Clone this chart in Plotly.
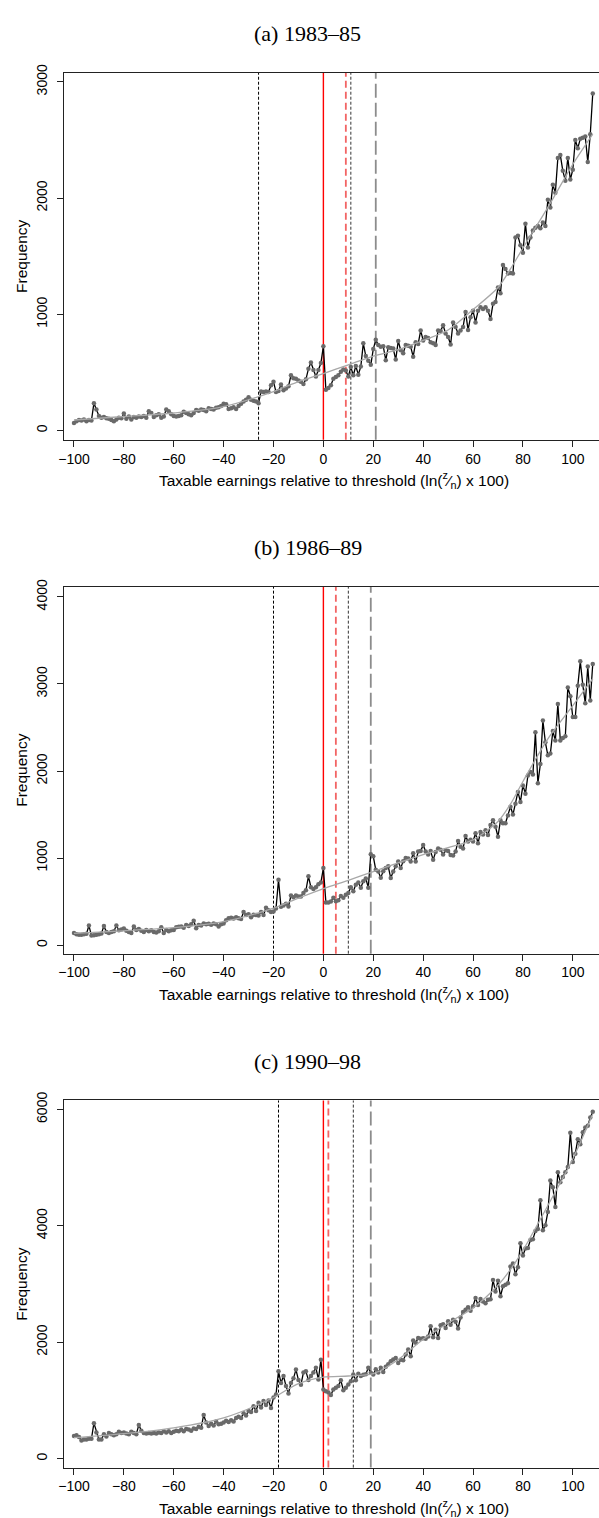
import plotly.graph_objects as go

# earnings bins, ln(z/n) x 100
bins = list(range(-100, 109))

# observed frequencies, one value per bin (-100 .. 108)
freq_a = [65, 80, 90, 85, 95, 80, 90, 85, 235, 180,
          125, 110, 115, 105, 100, 90, 80, 95, 110, 105,
          145, 100, 120, 95, 115, 110, 120, 115, 125, 110,
          165, 150, 115, 130, 140, 110, 120, 180, 165, 140,
          125, 120, 125, 130, 160, 150, 140, 130, 150, 175,
          170, 180, 175, 165, 190, 185, 180, 195, 200, 210,
          230, 225, 185, 190, 200, 185, 210, 230, 250, 265,
          285, 265, 255, 250, 235, 335, 330, 335, 330, 390,
          420, 330, 340, 395, 345, 360, 380, 475, 450, 445,
          430, 420, 400, 440, 530, 585, 520, 465, 520, 580,
          725, 350, 365, 390, 445, 460, 475, 505, 525, 515,
          465, 545, 475, 555, 480, 550, 750, 640, 600, 565,
          700, 780, 735, 720, 725, 605, 715, 710, 705, 610,
          770, 690, 665, 735, 730, 720, 635, 760, 745, 860,
          775, 805, 795, 760, 750, 735, 860, 855, 905, 835,
          805, 740, 930, 890, 835, 860, 890, 1020, 865, 975,
          1030, 930, 1030, 1060, 1045, 1060, 1030, 960, 1090, 1105,
          1230, 1180, 1425, 1390, 1350, 1355, 1350, 1660, 1675, 1595,
          1530, 1780, 1575, 1660, 1720, 1745, 1760, 1740, 1790, 1760,
          1985, 1920, 2115, 2045, 2345, 2370, 2235, 2150, 2345, 2160,
          2245, 2500, 2430, 2510, 2520, 2530, 2310, 2550, 2900]

freq_b = [140, 125, 120, 120, 125, 130, 225, 110, 115, 120,
          125, 135, 220, 150, 140, 150, 160, 225, 170, 180,
          190, 165, 150, 140, 215, 175, 185, 165, 150, 175,
          160, 170, 150, 145, 160, 205, 140, 175, 160, 170,
          175, 205, 210, 215, 200, 230, 220, 240, 280, 195,
          230, 225, 250, 240, 245, 235, 250, 240, 215, 240,
          250, 285, 310, 315, 305, 320, 310, 300, 380, 345,
          355, 320, 350, 345, 340, 380, 345, 430, 400, 380,
          385, 420, 750, 440, 455, 475, 445, 570, 550, 570,
          560, 560, 600, 630, 790, 665, 645, 665, 700, 720,
          885, 490, 490, 500, 545, 505, 515, 565, 545, 580,
          600, 665, 620, 695, 720, 660, 735, 765, 660, 1045,
          1020, 865, 845, 775, 850, 885, 905, 770, 845, 905,
          960, 885, 965, 1000, 995, 960, 1055, 960, 1075, 1080,
          1150, 1075, 1040, 1080, 980, 1070, 1110, 1095, 1040, 1090,
          1080, 1035, 1030, 1075, 1195, 1130, 1110, 1255, 1190, 1210,
          1190, 1285, 1170, 1300, 1270, 1320, 1265, 1380, 1435, 1360,
          1245, 1435, 1400, 1400, 1490, 1590, 1500, 1625, 1760, 1645,
          1835, 1740, 1950, 1990, 1960, 2445, 1860, 2080, 2580, 2330,
          2180, 2200, 2460, 2350, 2770, 2350, 2380, 2400, 2960, 2860,
          2620, 2620, 2980, 3260, 2990, 2780, 3200, 2810, 3230]

freq_c = [390, 400, 370, 310, 330, 330, 340, 340, 610, 450,
          330, 330, 420, 380, 440, 420, 400, 420, 460, 440,
          450, 430, 420, 460, 440, 420, 580, 480, 440, 430,
          440, 430, 440, 430, 450, 440, 470, 450, 470, 440,
          460, 480, 470, 500, 470, 510, 500, 480, 520, 510,
          550, 530, 750, 620, 560, 600, 570, 640, 590, 600,
          620, 650, 630, 660, 640, 700, 720, 700, 780, 740,
          820, 800, 900, 820, 960, 880, 990, 920, 1000, 870,
          1050, 1100, 1500, 1300, 1420, 1250, 1120, 1300, 1380, 1530,
          1350, 1270, 1480, 1500, 1350, 1420, 1480, 1560, 1360, 1700,
          1190, 1160, 1135, 1095, 1190, 1220, 1250, 1345, 1175, 1220,
          1275, 1330, 1445, 1345, 1460, 1420, 1440, 1450, 1560, 1475,
          1445, 1535, 1480, 1560, 1490, 1580, 1620, 1675, 1705, 1730,
          1645, 1700, 1690, 1790, 1875, 1760, 2030, 1990, 2075, 2060,
          2070, 2060, 2100, 2275, 2085, 2215, 2075, 2290, 2310, 2245,
          2360, 2300, 2385, 2350, 2235, 2425, 2520, 2560, 2600, 2540,
          2620, 2760, 2640, 2745, 2700, 2670, 2730, 2740, 3070, 2870,
          3055, 2790, 2960, 2990, 3015, 3300, 3355, 3170, 3290, 3700,
          3490, 3610, 3620, 3755, 3770, 3910, 3945, 4440, 3925, 4010,
          4240, 4780, 4665, 4325, 4920, 4750, 4840, 4920, 5010, 5600,
          5095, 5240, 5490, 5400, 5610, 5690, 5720, 5860, 5960]

# fitted counterfactual
cf_bins = [-100, -80, -60, -40, -20, -10, 0, 10, 20, 30, 40, 50, 60, 70, 75, 80, 90, 100, 108]
cf_a = [90, 120, 150, 205, 335, 420, 490, 565, 640, 695, 775, 865, 1040, 1230, 1390, 1570, 1920, 2290, 2550]
cf_b = [135, 165, 200, 270, 425, 540, 650, 745, 845, 945, 1040, 1120, 1210, 1420, 1620, 1880, 2370, 2750, 3060]
cf_c = [360, 430, 530, 700, 1050, 1290, 1400, 1420, 1460, 1700, 2050, 2330, 2590, 2980, 3250, 3580, 4350, 5150, 5920]

# excluded window bounds, threshold, marginal buncher, upper limit
lower_a, redash_a, upper_a, grey_a = -26, 9, 11, 21
lower_b, redash_b, upper_b, grey_b = -20, 5, 10, 19
lower_c, redash_c, upper_c, grey_c = -18, 2, 12, 19

titles = ["(a) 1983–85", "(b) 1986–89", "(c) 1990–98"]
yticks_a = [0, 1000, 2000, 3000]
yticks_b = [0, 1000, 2000, 3000, 4000]
yticks_c = [0, 2000, 4000, 6000]

W, H = 599, 1518
PERIOD = 517
sans = "Liberation Sans, Arial, sans-serif"

panels = [
    (freq_a, cf_a, (lower_a, redash_a, upper_a, grey_a), yticks_a, [-80, 3080]),
    (freq_b, cf_b, (lower_b, redash_b, upper_b, grey_b), yticks_b, [-98, 4119]),
    (freq_c, cf_c, (lower_c, redash_c, upper_c, grey_c), yticks_c, [-154, 6154]),
]

fig = go.Figure()
layout = dict(width=W, height=H, margin=dict(l=64, r=0, t=0, b=0),
              paper_bgcolor="white", plot_bgcolor="white", showlegend=False,
              shapes=[], annotations=[])

def py(px):
    # pixel from top -> paper y
    return 1 - px / H

def note(text, x_px, y_px, size, family=sans, angle=0):
    return dict(text=text, x=(x_px - 64) / (W - 64), y=py(y_px), xref="paper", yref="paper",
                xanchor="center", yanchor="middle", showarrow=False, textangle=angle,
                font=dict(family=family, size=size, color="black"))

for i, (freq, cf, vl, yticks, yrange) in enumerate(panels):
    n = "" if i == 0 else str(i + 1)
    off = i * PERIOD
    top, bot = 64 + off, 433.3 + off

    # observed distribution
    fig.add_trace(go.Scatter(x=bins, y=freq, mode="lines+markers",
                             line=dict(color="black", width=1.3),
                             marker=dict(color="#6a6a6a", size=4.5),
                             xaxis="x" + n, yaxis="y" + n))
    # counterfactual
    fig.add_trace(go.Scatter(x=cf_bins, y=cf, mode="lines",
                             line=dict(color="#a8a8a8", width=1.3, shape="spline", smoothing=0.8),
                             xaxis="x" + n, yaxis="y" + n))

    layout["xaxis" + n] = dict(domain=[0, 1], range=[-104, 110.5], anchor="y" + n,
                               tickvals=[-100, -80, -60, -40, -20, 0, 20, 40, 60, 80, 100],
                               ticks="outside", ticklen=6, tickcolor="#222",
                               showline=True, linecolor="#222", linewidth=1, mirror=True,
                               showgrid=False, zeroline=False,
                               tickfont=dict(family=sans, size=14, color="black"))
    layout["yaxis" + n] = dict(domain=[py(bot), py(top)], range=yrange, anchor="x" + n,
                               tickvals=yticks, ticks="outside", ticklen=6, tickcolor="#222",
                               tickangle=-90, ticklabelstandoff=4,
                               showline=True, linecolor="#222", linewidth=1,
                               showgrid=False, zeroline=False,
                               tickfont=dict(family=sans, size=14, color="black"))

    lower, redash, upper, grey = vl
    ydom = "y" + n + " domain"
    styles = [
        (lower, dict(color="black", width=1, dash="3px,2px")),
        (0, dict(color="red", width=1.4)),
        (redash, dict(color="#f26464", width=1.8, dash="7px,4px")),
        (upper, dict(color="#333", width=1, dash="3px,2px")),
        (grey, dict(color="#8c8c8c", width=1.8, dash="14px,5px")),
    ]
    for xv, ln in styles:
        layout["shapes"].append(dict(type="line", xref="x" + n, yref=ydom,
                                     x0=xv, x1=xv, y0=0, y1=1, line=ln, layer="below"))

    layout["annotations"] += [
        note(titles[i], 307.5, 25 + off, 22, family="Liberation Serif, serif"),
        note("Taxable earnings relative to threshold (ln(<sup>z</sup>⁄<sub>n</sub>) x 100)",
             334, 474 + off, 15.5),
        note("Frequency", 20.7, (top + bot) / 2, 15.5, angle=-90),
    ]

fig.update_layout(**layout)
# drop the page margin so the figure sits at the window corner
fig.write_html("out.html", config={"displayModeBar": False},
               post_script="document.body.style.margin='0px';")
